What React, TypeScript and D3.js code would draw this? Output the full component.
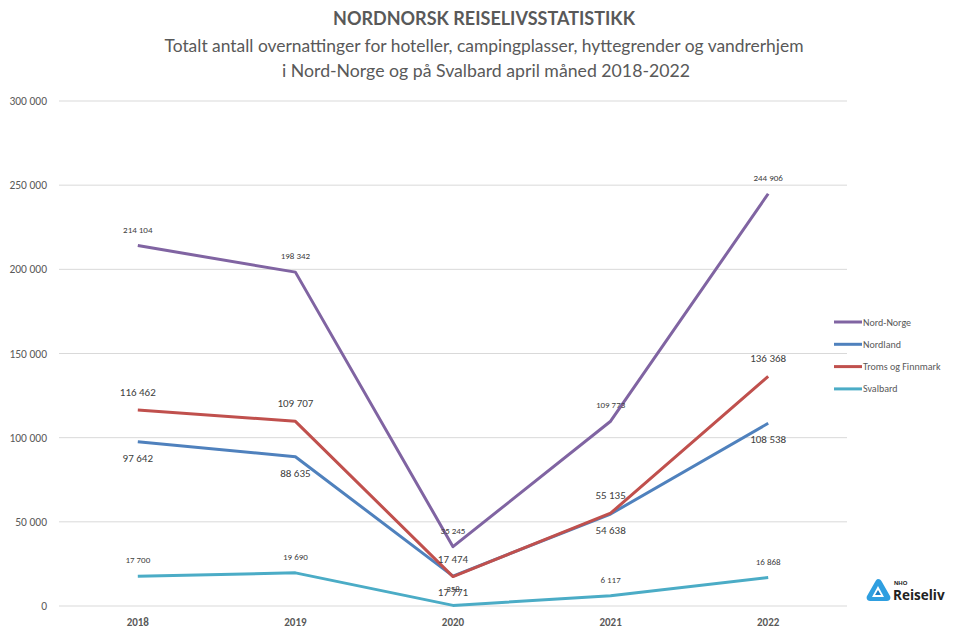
import React from "react";
import * as d3 from "d3";

const years = ["2018", "2019", "2020", "2021", "2022"];
const nordNorge = [214104, 198342, 35245, 109773, 244906];
const nordland = [97642, 88635, 17771, 54638, 108538];
const tromsFinnmark = [116462, 109707, 17474, 55135, 136368];
const svalbard = [17700, 19690, 358, 6117, 16868];
const yTicks = [0, 50000, 100000, 150000, 200000, 250000, 300000];

const seriesList = [
  { name: "Nord-Norge", values: nordNorge, color: "#8064A2", labelDy: -13, fs: 9 },
  { name: "Nordland", values: nordland, color: "#4F81BD", labelDy: 20, fs: 11 },
  { name: "Troms og Finnmark", values: tromsFinnmark, color: "#C0504D", labelDy: -14, fs: 11 },
  { name: "Svalbard", values: svalbard, color: "#4BACC6", labelDy: -13, fs: 9 },
];

const W = 970, H = 630;
const left = 59, right = 847, top = 101, bottom = 606;
const TFONT = "Lato, 'Open Sans', Arial, sans-serif";
const LFONT = "Calibri, 'Carlito', 'Liberation Sans', Arial, sans-serif";

const fmt = (v: number) => d3.format(",")(v).replace(/,/g, " ");

export default function App() {
  const x = d3.scaleBand().domain(years).range([left, right]);
  const y = d3.scaleLinear().domain([0, 300000]).range([bottom, top]);
  const cx = (yr: string) => (x(yr) as number) + x.bandwidth() / 2;
  const line = d3.line<number>().x((_, i) => cx(years[i])).y((v) => y(v));

  return (
    <svg width={W} height={H} style={{ position: "absolute", left: 0, top: 0, background: "#fff" }}>
      <text x={484} y={25} textAnchor="middle" fontFamily={TFONT} fontWeight="bold" fontSize={18} fill="#595959">
        NORDNORSK REISELIVSSTATISTIKK
      </text>
      <text x={484} y={52} textAnchor="middle" fontFamily={TFONT} fontSize={18} fill="#595959" textLength={639} lengthAdjust="spacingAndGlyphs">
        Totalt antall overnattinger for hoteller, campingplasser, hyttegrender og vandrerhjem
      </text>
      <text x={486} y={77} textAnchor="middle" fontFamily={TFONT} fontSize={18} fill="#595959" textLength={408} lengthAdjust="spacingAndGlyphs">
        i Nord-Norge og på Svalbard april måned 2018-2022
      </text>

      {yTicks.map((t) => (
        <g key={t}>
          <line x1={left} x2={right} y1={y(t)} y2={y(t)} stroke="#d9d9d9" strokeWidth={1} />
          <text x={47} y={y(t) + 4} textAnchor="end" fontFamily={LFONT} fontSize={11.5} fill="#595959">
            {fmt(t)}
          </text>
        </g>
      ))}

      {years.map((yr) => (
        <text key={yr} x={cx(yr)} y={626} textAnchor="middle" fontFamily={LFONT} fontWeight="bold" fontSize={11} fill="#595959">
          {yr}
        </text>
      ))}

      {seriesList.map((s) => (
        <path key={s.name} d={line(s.values) || ""} fill="none" stroke={s.color} strokeWidth={3} strokeLinejoin="round" />
      ))}

      {seriesList.map((s) =>
        s.values.map((v, i) => (
          <text key={s.name + i} x={cx(years[i])} y={y(v) + s.labelDy} textAnchor="middle" fontFamily={LFONT} fontSize={s.fs} fill="#404040">
            {fmt(v)}
          </text>
        ))
      )}

      {seriesList.map((s, i) => (
        <g key={s.name} transform={`translate(834, ${322 + i * 22.3})`}>
          <line x1={0} x2={28} y1={0} y2={0} stroke={s.color} strokeWidth={3} />
          <text x={29} y={3.5} fontFamily={LFONT} fontSize={10} fill="#595959">{s.name}</text>
        </g>
      ))}

      <g transform="translate(866, 579)">
        <path d="M12,0 C14,0 15,1 16,3 L24,17 C25,19 24,22 21,22 L4,22 C1,22 0,19 1,17 L9,3 C10,1 11,0 12,0 Z" fill="#2f9fe0" />
        <path d="M12,7 L18,18 L6,18 Z" fill="#ffffff" />
        <path d="M12,11 L15,16 L9,16 Z" fill="#1c7fc4" />
        <text x={28} y={6} fontFamily="'Liberation Sans', Arial, sans-serif" fontWeight="bold" fontSize={6} fill="#222">NHO</text>
        <text x={27} y={21} fontFamily="'Open Sans', Arial, sans-serif" fontWeight="bold" fontSize={13.5} fill="#222">Reiseliv</text>
      </g>
    </svg>
  );
}
